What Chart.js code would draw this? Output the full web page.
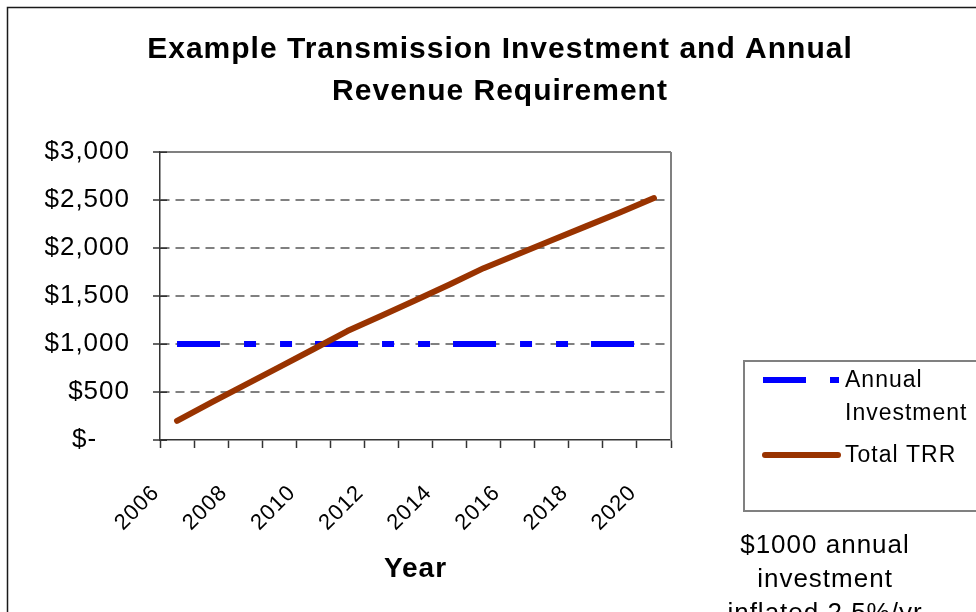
<!DOCTYPE html>
<html>
<head>
<meta charset="utf-8">
<script src="https://cdn.jsdelivr.net/npm/chart.js@4.4.0/dist/chart.umd.min.js"></script>
<style>
  html, body { margin: 0; padding: 0; background: #ffffff; }
  #contenedor { width: 976px; height: 612px; }
</style>
</head>
<body>
<div id="contenedor"><canvas id="graficaTRR" width="976" height="612"></canvas></div>
<script>
const years = ['2006', '2007', '2008', '2009', '2010', '2011', '2012', '2013',
               '2014', '2015', '2016', '2017', '2018', '2019', '2020'];
const annualInvestment = [1000, 1000, 1000, 1000, 1000, 1000, 1000, 1000,
                          1000, 1000, 1000, 1000, 1000, 1000, 1000];
const totalTRR = [200, 390, 575, 760, 945, 1135, 1295, 1455,
                  1620, 1790, 1935, 2080, 2225, 2370, 2520];
const yTicks = [0, 500, 1000, 1500, 2000, 2500, 3000];
const titleLines = ['Example Transmission Investment and Annual', 'Revenue Requirement'];
const axisTitle = 'Year';
const legendLabels = [['Annual', 'Investment'], ['Total TRR']];
const noteLines = ['$1000 annual', 'investment', 'inflated 2.5%/yr'];

const fuente = '"Liberation Sans", Arial, sans-serif';
const colorTRR = '#993300';
const colorInversion = '#0000FF';
const guionInversion = [43, 24, 12, 24, 12, 23];

const decoracion = {
    id: 'decoracion',
    beforeLayout(grafica) {
        grafica.ctx.letterSpacing = '1px';
    },
    beforeDraw(grafica) {
        const ctx = grafica.ctx;
        ctx.letterSpacing = '1px';
        ctx.save();
        ctx.fillStyle = '#ffffff';
        ctx.fillRect(0, 0, grafica.width, grafica.height);
        // marco exterior
        ctx.strokeStyle = '#1a1a1a';
        ctx.lineWidth = 1.5;
        ctx.beginPath();
        ctx.moveTo(7.5, grafica.height + 2);
        ctx.lineTo(7.5, 7.5);
        ctx.lineTo(grafica.width + 2, 7.5);
        ctx.stroke();
        ctx.restore();
    },
    beforeDatasetsDraw(grafica) {
        const ctx = grafica.ctx;
        const area = grafica.chartArea;
        const ejeY = grafica.scales.y;
        ctx.save();
        // borde derecho del area
        ctx.strokeStyle = '#808080';
        ctx.lineWidth = 2;
        ctx.beginPath();
        ctx.moveTo(area.right, area.top);
        ctx.lineTo(area.right, area.bottom);
        ctx.stroke();
        // marcas interiores del eje Y
        ctx.strokeStyle = '#333333';
        ctx.lineWidth = 1.5;
        yTicks.forEach(function(v) {
            const y = Math.round(ejeY.getPixelForValue(v)) + 0.25;
            ctx.beginPath();
            ctx.moveTo(area.left, y);
            ctx.lineTo(area.left + 7, y);
            ctx.stroke();
        });
        ctx.restore();
    },
    afterDraw(grafica) {
        const ctx = grafica.ctx;
        const area = grafica.chartArea;
        ctx.save();
        ctx.letterSpacing = '1px';
        ctx.fillStyle = '#000000';
        ctx.textBaseline = 'alphabetic';

        // titulo
        ctx.textAlign = 'center';
        ctx.font = 'bold 30px ' + fuente;
        titleLines.forEach(function(t, i) {
            ctx.fillText(t, 500, 58 + i * 42);
        });

        // titulo del eje X
        ctx.font = 'bold 28px ' + fuente;
        ctx.fillText(axisTitle, (area.left + area.right) / 2, 577);

        // caja de leyenda
        ctx.strokeStyle = '#808080';
        ctx.lineWidth = 2;
        ctx.beginPath();
        ctx.moveTo(grafica.width + 2, 361);
        ctx.lineTo(744, 361);
        ctx.lineTo(744, 511);
        ctx.lineTo(grafica.width + 2, 511);
        ctx.stroke();

        ctx.lineWidth = 6;
        ctx.strokeStyle = colorInversion;
        ctx.lineCap = 'butt';
        ctx.setLineDash(guionInversion);
        ctx.beginPath();
        ctx.moveTo(763, 380);
        ctx.lineTo(839, 380);
        ctx.stroke();

        ctx.setLineDash([]);
        ctx.strokeStyle = colorTRR;
        ctx.lineCap = 'round';
        ctx.beginPath();
        ctx.moveTo(765, 455);
        ctx.lineTo(838, 455);
        ctx.stroke();

        ctx.textAlign = 'left';
        ctx.font = '23px ' + fuente;
        ctx.fillText(legendLabels[0][0], 845, 387);
        ctx.fillText(legendLabels[0][1], 845, 420);
        ctx.fillText(legendLabels[1][0], 845, 462);

        // nota
        ctx.textAlign = 'center';
        ctx.font = '26px ' + fuente;
        noteLines.forEach(function(t, i) {
            ctx.fillText(t, 825, 553 + i * 34);
        });
        ctx.restore();
    }
};

new Chart(document.getElementById('graficaTRR'), {
    type: 'line',
    data: {
        labels: years,
        datasets: [{
            label: 'Total TRR',
            data: totalTRR,
            borderColor: colorTRR,
            borderWidth: 6,
            borderCapStyle: 'round',
            borderJoinStyle: 'round',
            pointRadius: 0,
            tension: 0,
            fill: false,
            order: 0
        },
        {
            label: 'Annual Investment',
            data: annualInvestment,
            borderColor: colorInversion,
            borderWidth: 6,
            borderDash: guionInversion,
            borderCapStyle: 'butt',
            pointRadius: 0,
            tension: 0,
            fill: false,
            order: 1
        }]
    },
    options: {
        responsive: false,
        animation: false,
        layout: {
            padding: { top: 152, right: 305, bottom: 0, left: 0 }
        },
        plugins: {
            legend: { display: false },
            title: { display: false },
            tooltip: { enabled: false }
        },
        scales: {
            x: {
                offset: true,
                grid: {
                    offset: true,
                    drawOnChartArea: false,
                    drawTicks: true,
                    tickLength: 8,
                    tickColor: '#333333',
                    tickWidth: 1.5
                },
                border: { color: '#333333', width: 1.5 },
                ticks: {
                    autoSkip: false,
                    minRotation: 45,
                    maxRotation: 45,
                    labelOffset: -21,
                    padding: 32,
                    color: '#000000',
                    font: { family: fuente, size: 22 },
                    callback: function(valor, indice) {
                        return indice % 2 === 0 ? years[indice] : '';
                    }
                },
                afterFit: function(eje) { eje.height = 172; }
            },
            y: {
                min: 0,
                max: 3000,
                afterBuildTicks: function(eje) {
                    eje.ticks = yTicks.map(function(v) { return { value: v }; });
                },
                grid: {
                    color: function(c) {
                        return (c.tick && c.tick.value === 0) ? 'rgba(0,0,0,0)' : '#808080';
                    },
                    lineWidth: 2,
                    tickLength: 7,
                    tickColor: '#333333',
                    tickWidth: 1.5
                },
                border: {
                    color: '#333333',
                    width: 1.5,
                    dash: function(c) {
                        return (c.tick && c.tick.value === 3000) ? [] : [9, 6];
                    }
                },
                ticks: {
                    padding: 23,
                    color: '#000000',
                    font: { family: fuente, size: 26 },
                    callback: function(valor) {
                        return valor === 0 ? '$-    ' : '$' + valor.toLocaleString('en-US');
                    }
                },
                afterFit: function(eje) { eje.width = 160; }
            }
        }
    },
    plugins: [decoracion]
});
</script>
</body>
</html>
